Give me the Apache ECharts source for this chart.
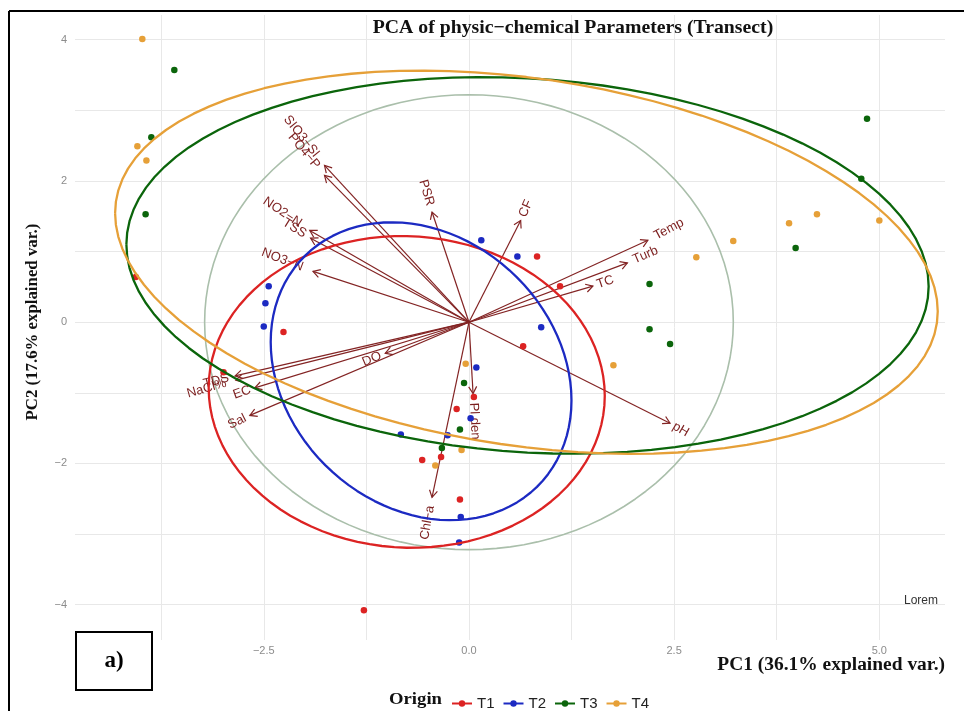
<!DOCTYPE html>
<html>
<head>
<meta charset="utf-8">
<script src="https://cdn.jsdelivr.net/npm/echarts@6/dist/echarts.min.js"></script>
<style>
  html, body { margin: 0; padding: 0; background: #ffffff; }
  #chart { width: 964px; height: 711px; }
</style>
</head>
<body>
<div id="chart"></div>
<script>
// ---- PCA scores (PC1, PC2) per transect ----
const groupNames = ['T1', 'T2', 'T3', 'T4'];

const scoresT1 = [
  [0.66, -0.34], [0.83, 0.93], [1.11, 0.51], [-2.26, -0.14], [0.06, -1.06], [-0.15, -1.23],
  [-0.34, -1.91], [-0.57, -1.95], [-0.11, -2.51], [-2.99, -0.71], [-1.28, -4.08], [-4.06, 0.64]
];
const scoresT2 = [
  [0.15, 1.16], [0.59, 0.93], [0.88, -0.07], [0.09, -0.64], [0.02, -1.36], [-0.83, -1.59],
  [-0.26, -1.60], [-0.10, -2.76], [-0.12, -3.12], [-2.44, 0.51], [-2.48, 0.27], [-2.50, -0.06]
];
const scoresT3 = [
  [-3.59, 3.57], [-3.87, 2.62], [-3.94, 1.53], [4.85, 2.88], [4.78, 2.03], [3.98, 1.05],
  [2.20, 0.54], [2.20, -0.10], [2.45, -0.31], [-0.06, -0.86], [-0.11, -1.52], [-0.33, -1.78]
];
const scoresT4 = [
  [-3.98, 4.01], [-4.04, 2.49], [-3.93, 2.29], [2.77, 0.92], [3.22, 1.15], [3.90, 1.40],
  [4.24, 1.53], [5.00, 1.44], [1.76, -0.61], [-0.04, -0.59], [-0.09, -1.81], [-0.41, -2.03]
];

// ---- variable loadings (arrow tips) ----
const varNames = ['SIO3−SI', 'PO4−P', 'NO2−N', 'TSS', 'NO3−N', 'PSR', 'CF', 'Temp', 'Turb',
                  'TC', 'pH', 'Pl den', 'Chl−a', 'DO', 'TDS', 'NaCl%', 'EC', 'Sal'];
const varPC1 = [-1.76, -1.76, -1.94, -1.93, -1.90, -0.45, 0.63, 2.18, 1.93,
                1.51, 2.45, 0.05, -0.45, -1.02, -2.85, -2.84, -2.61, -2.67];
const varPC2 = [2.22, 2.08, 1.30, 1.19, 0.72, 1.56, 1.44, 1.16, 0.84,
                0.51, -1.43, -1.01, -2.48, -0.44, -0.76, -0.82, -0.93, -1.32];

// ---- axis ticks ----
const xLabelValues = [-2.5, 0, 2.5, 5];
const xGridValues = [-3.75, -2.5, -1.25, 0, 1.25, 2.5, 3.75, 5];
const yLabelValues = [-4, -2, 0, 2, 4];
const yGridValues = [-4, -3, -2, -1, 0, 1, 2, 3, 4];

// ---- styling ----
const groupColors = ['#dc2323', '#1c2ac2', '#0b650b', '#e6a038'];
const arrowColor = '#832424';
const arrowTextColor = '#7c1f1f';
const circleColor = '#aabfab';

const allScores = [scoresT1, scoresT2, scoresT3, scoresT4];

// Normal-probability ellipse of a point cloud (same construction as ggbiplot)
function normalEllipse(pts, prob, nSeg) {
  const n = pts.length;
  let mx = 0, my = 0;
  pts.forEach(p => { mx += p[0]; my += p[1]; });
  mx /= n; my /= n;
  let sxx = 0, syy = 0, sxy = 0;
  pts.forEach(p => {
    const dx = p[0] - mx, dy = p[1] - my;
    sxx += dx * dx; syy += dy * dy; sxy += dx * dy;
  });
  sxx /= (n - 1); syy /= (n - 1); sxy /= (n - 1);
  const ed = Math.sqrt(-2 * Math.log(1 - prob)); // chi-square quantile, 2 df
  const a = Math.sqrt(sxx), b = sxy / a, c = Math.sqrt(syy - b * b);
  const out = [];
  for (let k = 0; k <= nSeg; k++) {
    const th = -Math.PI + 2 * Math.PI * k / nSeg;
    const ct = Math.cos(th), st = Math.sin(th);
    out.push([mx + ed * a * ct, my + ed * (b * ct + c * st)]);
  }
  return out;
}

// Correlation circle radius from all scores
function circlePath(groups, prob, nSeg) {
  let sx = 0, sy = 0, n = 0;
  groups.forEach(g => g.forEach(p => { sx += p[0] * p[0]; sy += p[1] * p[1]; n++; }));
  const r = Math.sqrt(-2 * Math.log(1 - prob)) * Math.pow((sx / n) * (sy / n), 0.25);
  const out = [];
  for (let k = 0; k <= nSeg; k++) {
    const th = 2 * Math.PI * k / nSeg;
    out.push([r * Math.cos(th), r * Math.sin(th)]);
  }
  return out;
}

const measureCtx = document.createElement('canvas').getContext('2d');
const arrowFont = '13px "Liberation Sans", Arial, sans-serif';
measureCtx.font = arrowFont;

const arrowData = varNames.map((nm, i) => [varPC1[i], varPC2[i], nm]);

const series = [];

// ellipses (listed first so the legend uses the line-with-dot icon)
allScores.forEach((pts, gi) => {
  series.push({
    name: groupNames[gi],
    type: 'line',
    data: normalEllipse(pts, 0.68, 100),
    showSymbol: false,
    symbol: 'circle',
    symbolSize: 7,
    smooth: false,
    silent: true,
    z: 4,
    itemStyle: { color: groupColors[gi] },
    lineStyle: { color: groupColors[gi], width: 2.3 }
  });
});

// correlation circle
series.push({
  type: 'line',
  data: circlePath(allScores, 0.69, 120),
  showSymbol: false,
  silent: true,
  z: 1,
  lineStyle: { color: circleColor, width: 1.6 }
});

// variable arrows with labels
series.push({
  type: 'custom',
  z: 2,
  silent: true,
  data: arrowData,
  encode: { x: 0, y: 1 },
  renderItem: function (params, api) {
    const x = api.value(0), y = api.value(1);
    const name = arrowData[params.dataIndex][2];
    const o = api.coord([0, 0]);
    const t = api.coord([x, y]);
    const dx = t[0] - o[0], dy = t[1] - o[1];
    const len = Math.hypot(dx, dy);
    const bx = -dx / len, by = -dy / len;
    const head = 8, sp = Math.PI / 6;
    const w1 = [t[0] + head * (bx * Math.cos(sp) - by * Math.sin(sp)),
                t[1] + head * (bx * Math.sin(sp) + by * Math.cos(sp))];
    const w2 = [t[0] + head * (bx * Math.cos(-sp) - by * Math.sin(-sp)),
                t[1] + head * (bx * Math.sin(-sp) + by * Math.cos(-sp))];
    const ang = Math.atan(y / x);
    const tw = measureCtx.measureText(name).width;
    const right = x > 0;
    return {
      type: 'group',
      children: [
        { type: 'line', shape: { x1: o[0], y1: o[1], x2: t[0], y2: t[1] },
          style: { stroke: arrowColor, lineWidth: 1.2 } },
        { type: 'polyline', shape: { points: [w1, t, w2] },
          style: { stroke: arrowColor, lineWidth: 1.2, fill: null } },
        { type: 'text', x: t[0], y: t[1], rotation: ang,
          style: { text: name, x: right ? 0.25 * tw : -0.25 * tw, y: 0,
                   align: right ? 'left' : 'right', verticalAlign: 'middle',
                   fill: arrowTextColor, font: arrowFont } }
      ]
    };
  }
});

// score points
allScores.forEach((pts, gi) => {
  series.push({
    name: groupNames[gi],
    type: 'scatter',
    data: pts,
    symbolSize: 6.5,
    z: 3,
    itemStyle: { color: groupColors[gi], opacity: 1 }
  });
});

const fmtMinus = v => (v < 0 ? '−' + Math.abs(v) : String(v));

const option = {
  animation: false,
  backgroundColor: '#ffffff',
  grid: { left: 75, right: 19, top: 15, bottom: 71, containLabel: false },
  xAxis: {
    type: 'value', min: -4.8, max: 5.8,
    axisLine: { show: false },
    axisTick: { show: false, customValues: xGridValues },
    axisLabel: {
      customValues: xLabelValues, margin: 5, fontSize: 11, color: '#8c8c8c',
      fontFamily: 'Liberation Sans',
      formatter: v => (v < 0 ? '−' + Math.abs(v).toFixed(1) : v.toFixed(1))
    },
    splitLine: { show: true, lineStyle: { color: '#e8e8e8', width: 1 } }
  },
  yAxis: {
    type: 'value', min: -4.5, max: 4.35,
    axisLine: { show: false },
    axisTick: { show: false, customValues: yGridValues },
    axisLabel: {
      customValues: yLabelValues, margin: 8, fontSize: 11, color: '#8c8c8c',
      fontFamily: 'Liberation Sans', formatter: fmtMinus
    },
    splitLine: { show: true, lineStyle: { color: '#e8e8e8', width: 1 } }
  },
  legend: {
    data: groupNames,
    left: 446, top: 691,
    itemWidth: 20, itemHeight: 8, itemGap: 8,
    textStyle: { fontSize: 15, color: '#222', fontFamily: 'Liberation Sans' }
  },
  graphic: [
    { type: 'line', shape: { x1: 9, y1: 11, x2: 964, y2: 11 }, style: { stroke: '#000', lineWidth: 2 }, z: 10 },
    { type: 'line', shape: { x1: 9, y1: 11, x2: 9, y2: 711 }, style: { stroke: '#000', lineWidth: 2 }, z: 10 },
    { type: 'text', x: 573, y: 28, scaleX: 1.04, style: { text: 'PCA of physic−chemical Parameters (Transect)',
      font: 'bold 19px "Liberation Serif", serif', fill: '#111', align: 'center', verticalAlign: 'middle' }, z: 10 },
    { type: 'text', x: 945, y: 665, scaleX: 1.08, style: { text: 'PC1 (36.1% explained var.)',
      font: 'bold 18px "Liberation Serif", serif', fill: '#111', align: 'right', verticalAlign: 'middle' }, z: 10 },
    { type: 'text', x: 33, y: 322, rotation: Math.PI / 2, scaleX: 1.05, style: { text: 'PC2 (17.6% explained var.)',
      font: 'bold 16px "Liberation Serif", serif', fill: '#111', align: 'center', verticalAlign: 'middle' }, z: 10 },
    { type: 'text', x: 904, y: 601, style: { text: 'Lorem',
      font: '12px "Liberation Sans", Arial, sans-serif', fill: '#333', align: 'left', verticalAlign: 'middle' }, z: 10 },
    { type: 'text', x: 442, y: 700, scaleX: 1.1, style: { text: 'Origin',
      font: 'bold 17px "Liberation Serif", serif', fill: '#111', align: 'right', verticalAlign: 'middle' }, z: 10 },
    { type: 'rect', shape: { x: 76, y: 632, width: 76, height: 58 },
      style: { stroke: '#000', lineWidth: 2, fill: '#fff' }, z: 10 },
    { type: 'text', x: 114, y: 661, style: { text: 'a)',
      font: 'bold 23px "Liberation Serif", serif', fill: '#000', align: 'center', verticalAlign: 'middle' }, z: 11 }
  ],
  series: series
};

const chart = echarts.init(document.getElementById('chart'), null, { renderer: 'canvas' });
chart.setOption(option);
</script>
</body>
</html>
